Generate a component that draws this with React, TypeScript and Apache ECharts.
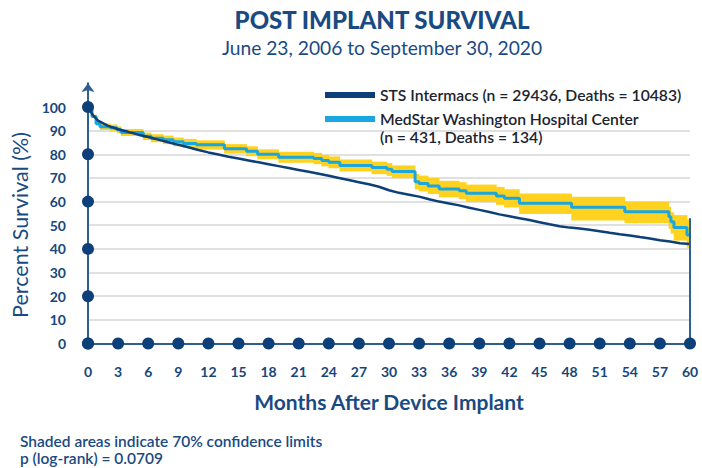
import React, { useEffect, useRef } from "react";
import * as echarts from "echarts";

const titleText = "POST IMPLANT SURVIVAL";
const subtitleText = "June 23, 2006 to September 30, 2020";
const yAxisName = "Percent Survival (%)";
const xAxisName = "Months After Device Implant";
const stsName = "STS Intermacs (n = 29436, Deaths = 10483)";
const msName = "MedStar Washington Hospital Center\n(n = 431, Deaths = 134)";
const footnotes = ["Shaded areas indicate 70% confidence limits", "p (log-rank) = 0.0709"];

const xTicks = [0, 3, 6, 9, 12, 15, 18, 21, 24, 27, 30, 33, 36, 39, 42, 45, 48, 51, 54, 57, 60];
const yDotValues = [0, 20, 40, 60, 80, 100];

// STS Intermacs survival curve
const stsMonths = [0, 0.5, 1, 2, 3, 4, 5, 6, 7, 8, 9, 10, 11, 12, 13, 14, 15, 16, 17, 18, 19, 20, 21, 22, 23, 24, 25, 26, 27, 28, 29, 30, 31, 32, 33, 34, 35, 36, 37, 38, 39, 40, 41, 42, 43, 44, 45, 46, 47, 48, 49, 50, 51, 52, 53, 54, 55, 56, 57, 58, 59, 60];
const stsSurvival = [100, 96.5, 94.2, 92.0, 90.6, 89.5, 88.3, 87.3, 86.2, 85.1, 84.0, 83.0, 81.8, 80.8, 79.9, 79.0, 78.2, 77.4, 76.6, 75.8, 75.0, 74.2, 73.4, 72.6, 71.8, 70.9, 70.0, 69.1, 68.2, 67.3, 66.3, 64.8, 63.7, 62.9, 62.1, 61.0, 60.0, 59.2, 58.4, 57.4, 56.5, 55.6, 54.6, 53.8, 53.0, 52.2, 51.3, 50.4, 49.6, 49.0, 48.6, 48.1, 47.5, 46.8, 46.2, 45.7, 45.0, 44.4, 43.7, 43.1, 42.4, 42.1];

// MedStar survival (step change points) and 70% confidence limits
const msMonths = [0, 0.4, 0.8, 1.2, 2.2, 2.9, 3.3, 5.5, 6.3, 7.5, 8.5, 9.5, 10.8, 13.6, 15.8, 16.9, 19.0, 22.5, 23.3, 24.0, 25.1, 28.3, 29.8, 30.3, 32.6, 33.0, 33.9, 35.0, 37.0, 37.7, 40.7, 41.5, 43.0, 48.2, 53.5, 57.9, 58.1, 58.4, 59.7, 60];
const msSurvival = [100, 96.0, 93.0, 91.7, 91.2, 90.4, 89.2, 87.6, 86.8, 86.1, 85.3, 84.6, 84.0, 82.3, 81.3, 80.0, 78.8, 78.2, 77.4, 76.6, 75.3, 74.4, 73.7, 72.7, 68.4, 67.7, 66.6, 65.3, 64.6, 63.5, 62.4, 61.4, 59.3, 57.6, 55.7, 53.6, 51.5, 49.1, 45.9, 45.9];
const msUpper = [100, 96.8, 94.0, 93.0, 92.6, 91.8, 90.7, 89.2, 88.5, 87.9, 87.1, 86.5, 85.9, 84.3, 83.4, 82.1, 81.1, 80.6, 79.8, 79.1, 77.8, 76.9, 76.3, 75.3, 71.7, 71.0, 70.0, 68.8, 68.2, 67.2, 66.2, 65.2, 63.4, 62.0, 60.0, 57.8, 55.5, 54.3, 52.5, 52.5];
const msLower = [100, 95.2, 92.0, 90.3, 89.7, 88.9, 87.7, 86.0, 85.1, 84.3, 83.4, 82.7, 82.0, 80.3, 79.2, 77.9, 76.4, 75.8, 74.9, 74.1, 72.7, 71.6, 70.9, 69.9, 65.1, 64.3, 63.2, 61.8, 61.0, 59.8, 58.6, 57.5, 54.8, 52.0, 50.8, 48.5, 46.5, 43.5, 40.5, 40.5];

// final drop line at 60 months
const endMonths = [60, 60];
const endValues = [53, 0];

const NAVY = "#0d3f78";
const STEEL = "#2e5f91";
const LIGHT_BLUE = "#1aa6df";
const YELLOW = "#ffd21f";
const TEXT_NAVY = "#1a4a82";
const FONT = "Lato, 'Open Sans', sans-serif";

export default function App() {
  const ref = useRef<HTMLDivElement>(null);

  useEffect(() => {
    document.body.style.margin = "0";
    if (!ref.current) return;
    const chart = echarts.init(ref.current, null, { renderer: "svg" });

    const sts = stsMonths.map((m, i) => [m, stsSurvival[i]]);
    const ms = msMonths.map((m, i) => [m, msSurvival[i]]);
    // band segments: [startMonth, endMonth, lower, upper]
    const band = msMonths.slice(0, -1).map((m, i) => [m, msMonths[i + 1], msLower[i], msUpper[i]]);
    const endLine = endMonths.map((m, i) => [m, endValues[i]]);
    const dots = [
      ...xTicks.map((m) => [m, 0]),
      ...yDotValues.map((v) => [0, v]),
    ];

    const gridColors = [
      "transparent",
      "#d6d6d6", "#d6d6d6", "#d6d6d6", "#d6d6d6", "#d6d6d6",
      "#d6d6d6", "#d6d6d6", "#d6d6d6", "#d6d6d6",
      "transparent", "transparent",
    ];

    chart.setOption({
      animation: false,
      textStyle: { fontFamily: FONT },
      title: {
        text: titleText,
        subtext: subtitleText,
        left: 377,
        textAlign: "center",
        top: 2,
        itemGap: 7,
        textStyle: { fontFamily: FONT, fontSize: 24, fontWeight: 900, color: TEXT_NAVY },
        subtextStyle: { fontFamily: FONT, fontSize: 19.2, color: TEXT_NAVY },
      },
      legend: [
        {
          data: [stsName],
          left: 320,
          top: 81,
          icon: "rect",
          itemWidth: 50,
          itemHeight: 6,
          itemGap: 4,
          selectedMode: false,
          textStyle: { fontFamily: FONT, fontSize: 15.7, fontWeight: 600, color: "#1b2430", lineHeight: 18 },
        },
        {
          data: [msName],
          left: 320,
          top: 87,
          icon: "rect",
          itemWidth: 50,
          itemHeight: 6,
          itemGap: 4,
          selectedMode: false,
          formatter: (name: string) => " \n" + name,
          textStyle: { fontFamily: FONT, fontSize: 15.7, fontWeight: 600, color: "#1b2430", lineHeight: 18 },
        },
      ],
      grid: {
        left: 88,
        right: 12,
        top: 83.35,
        bottom: 124.5,
        containLabel: false,
        outerBoundsMode: "none",
      },
      xAxis: {
        type: "value",
        min: 0,
        max: 60,
        interval: 3,
        name: xAxisName,
        nameLocation: "middle",
        nameGap: 47,
        nameTextStyle: { fontFamily: FONT, fontSize: 21, fontWeight: "bold", color: TEXT_NAVY },
        axisLine: { show: true, onZero: false, lineStyle: { color: STEEL, width: 2 } },
        axisTick: { show: false },
        axisLabel: { margin: 21, fontFamily: FONT, fontSize: 14, fontWeight: "bold", color: "#17467c" },
        splitLine: { show: false },
      },
      yAxis: {
        type: "value",
        min: 0,
        max: 110,
        interval: 10,
        name: yAxisName,
        nameLocation: "middle",
        nameGap: 54,
        nameTextStyle: { fontFamily: FONT, fontSize: 21.5, color: TEXT_NAVY, padding: [0, 23, 0, 0] },
        axisLine: {
          show: true,
          onZero: false,
          symbol: ["none", "arrow"],
          symbolSize: [10, 9],
          lineStyle: { color: STEEL, width: 2 },
        },
        axisTick: { show: false },
        axisLabel: { margin: 22, showMaxLabel: false, fontFamily: FONT, fontSize: 14, fontWeight: "bold", color: "#17467c" },
        splitLine: { show: true, lineStyle: { color: gridColors, width: 1.5 } },
      },
      series: [
        {
          name: "band",
          type: "custom",
          data: band,
          encode: { x: [0, 1], y: [2, 3] },
          silent: true,
          z: 2,
          renderItem: (params: any, api: any) => {
            const p0 = api.coord([api.value(0), api.value(3)]);
            const p1 = api.coord([api.value(1), api.value(2)]);
            return {
              type: "rect",
              shape: { x: p0[0] - 0.3, y: p0[1], width: p1[0] - p0[0] + 0.6, height: p1[1] - p0[1] },
              style: { fill: YELLOW },
            };
          },
        },
        {
          name: msName,
          type: "line",
          step: "end",
          data: ms,
          symbol: "none",
          color: LIGHT_BLUE,
          lineStyle: { color: LIGHT_BLUE, width: 3 },
          z: 3,
        },
        {
          name: stsName,
          type: "line",
          data: sts,
          symbol: "none",
          color: NAVY,
          lineStyle: { color: NAVY, width: 2.5 },
          z: 4,
        },
        {
          name: "end",
          type: "line",
          data: endLine,
          symbol: "none",
          silent: true,
          lineStyle: { color: STEEL, width: 2 },
          z: 4,
        },
        {
          name: "dots",
          type: "scatter",
          data: dots,
          symbol: "circle",
          symbolSize: 12,
          itemStyle: { color: NAVY, opacity: 1 },
          silent: true,
          z: 6,
        },
      ],
      graphic: footnotes.map((t, i) => ({
        type: "text",
        left: 20,
        top: 433 + i * 17,
        style: { text: t, fontFamily: FONT, fontSize: 15.5, fontWeight: 600, fill: TEXT_NAVY },
      })),
    });

    return () => chart.dispose();
  }, []);

  return <div ref={ref} style={{ width: 702, height: 468 }} />;
}
